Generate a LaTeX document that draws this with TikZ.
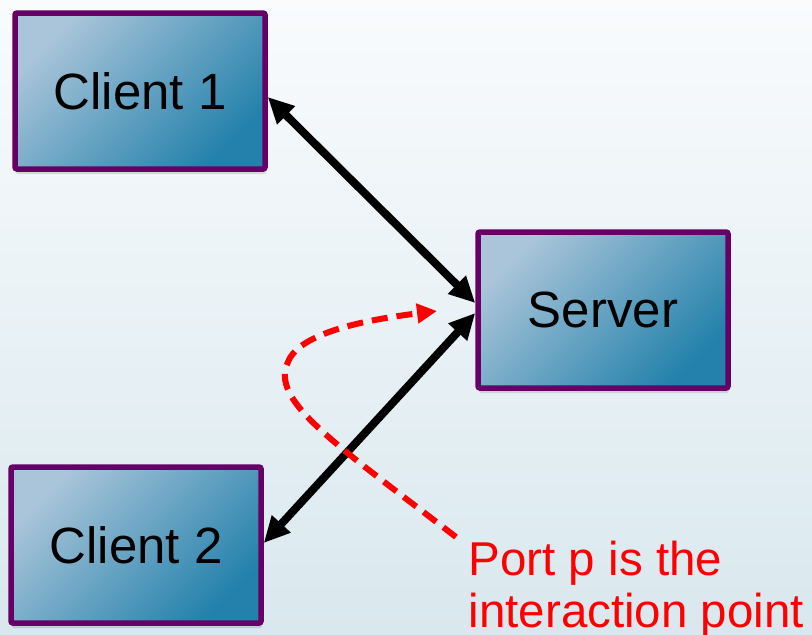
\documentclass[tikz,border=0pt]{standalone}
\usepackage{fontspec}
\setmainfont{Liberation Sans}
\usetikzlibrary{arrows.meta,shadows}
\definecolor{boxlight}{HTML}{AAC5D9}
\definecolor{boxdark}{HTML}{2381AB}
\definecolor{boxline}{HTML}{660066}
\definecolor{bgtop}{HTML}{F9FBFD}
\definecolor{bgbot}{HTML}{D9E8EE}
\tikzset{host/.style={rectangle,draw=boxline,line width=5.5pt,rounded corners=2pt,minimum width=250pt,minimum height=156pt,inner sep=0pt,
top color=boxlight,bottom color=boxdark,shading angle=45,drop shadow={shadow xshift=1pt,shadow yshift=-5pt,opacity=.25},font=\fontsize{51}{60}\selectfont},
link/.style={line width=8pt,{Triangle[length=26pt,width=24pt]}-{Triangle[length=26pt,width=24pt]}},
port/.style={red,line width=6pt,dash pattern=on 16pt off 9pt,-{Triangle[length=20pt,width=19pt]}}}

\begin{document}
\begin{tikzpicture}[x=1pt,y=-1pt,semithick]
\shade[top color=bgtop,bottom color=bgbot](0,0)rectangle(812,635);
\useasboundingbox(0,0)rectangle(812,635);
\node[host](c1)at(140,91){Client 1};
\node[host](sv)at(603,310){Server};
\node[host](c2)at(136,545){Client 2};
\draw[link]([yshift=-6pt]c1.east)--([yshift=7pt]sv.west);
\draw[link]([yshift=-3pt]sv.west)--([yshift=2pt]c2.east);
\coordinate(p0)at(456,537);\coordinate(p1)at(437,311);
\draw[port](p0)..controls(330,440)and(270,400)..(288,362)..controls(300,330)and(380,318)..(p1);
\node[red,anchor=base west,align=left,font=\fontsize{47.5}{52}\selectfont]at(465,627){Port p is the\\interaction point};
\end{tikzpicture}
\end{document}
